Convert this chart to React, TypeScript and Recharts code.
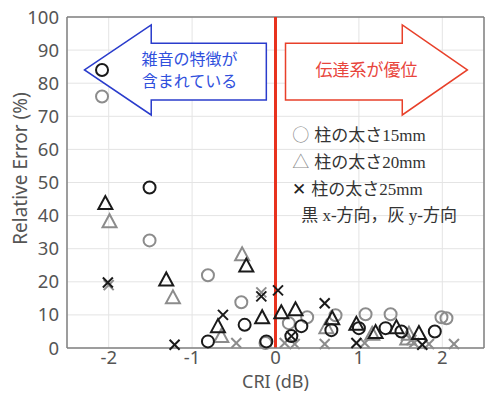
import React from "react"
import {
  ScatterChart,
  Scatter,
  XAxis,
  YAxis,
  CartesianGrid,
  ReferenceLine,
  Customized,
  Label,
} from "recharts"

const W = 485
const H = 394
const X_AXIS_H = 30
const MARGIN = { top: 17, right: 1, bottom: 16, left: 0 }
const Y_AXIS_W = 67

const xTicks = [-2, -1, 0, 1, 2]
const yTicks = [0, 10, 20, 30, 40, 50, 60, 70, 80, 90, 100]

// 黒 = x-方向, 灰 = y-方向
const circleX = [
  { x: -2.08, y: 84 }, { x: -1.51, y: 48.5 }, { x: -0.81, y: 2 }, { x: -0.37, y: 7 },
  { x: -0.11, y: 2 }, { x: 0.19, y: 3.6 }, { x: 0.31, y: 6.6 }, { x: 0.67, y: 5.4 },
  { x: 1.0, y: 6 }, { x: 1.32, y: 6 }, { x: 1.51, y: 5 }, { x: 1.91, y: 5 },
]
const circleY = [
  { x: -2.08, y: 76 }, { x: -1.51, y: 32.5 }, { x: -0.81, y: 22 }, { x: -0.41, y: 13.8 },
  { x: -0.12, y: 1.5 }, { x: 0.16, y: 7.5 }, { x: 0.38, y: 9.3 }, { x: 0.72, y: 9.9 },
  { x: 1.08, y: 10.2 }, { x: 1.38, y: 10.2 }, { x: 1.99, y: 9.3 }, { x: 2.05, y: 9 },
]
const triX = [
  { x: -2.04, y: 43.5 }, { x: -1.31, y: 20.4 }, { x: -0.35, y: 24.6 }, { x: -0.69, y: 6.3 },
  { x: -0.16, y: 9 }, { x: 0.07, y: 10.5 }, { x: 0.24, y: 11.4 }, { x: 0.68, y: 8.7 },
  { x: 0.97, y: 7 }, { x: 1.2, y: 4.5 }, { x: 1.45, y: 6 }, { x: 1.72, y: 4.2 },
]
const triY = [
  { x: -1.99, y: 38 }, { x: -1.23, y: 15 }, { x: -0.4, y: 28 }, { x: -0.65, y: 3.3 },
  { x: 0.61, y: 6 }, { x: 1.16, y: 4 }, { x: 1.6, y: 4 }, { x: 1.58, y: 2.6 },
]
const crossX = [
  { x: -2.01, y: 19.8 }, { x: -1.21, y: 1 }, { x: -0.63, y: 10 }, { x: -0.17, y: 15.6 },
  { x: 0.03, y: 17.4 }, { x: 0.19, y: 3.6 }, { x: 0.59, y: 13.5 }, { x: 0.97, y: 1.5 },
  { x: 1.76, y: 1 },
]
const crossY = [
  { x: -2.0, y: 19 }, { x: -0.47, y: 1.5 }, { x: -0.17, y: 16.8 }, { x: 0.11, y: 1.5 },
  { x: 0.23, y: 1.2 }, { x: 0.59, y: 1.2 }, { x: 1.07, y: 1.5 }, { x: 1.63, y: 2.4 },
  { x: 1.66, y: 1.5 }, { x: 1.84, y: 1.2 }, { x: 2.14, y: 1.2 },
]

const legendLines = [
  { sym: "○", symColor: "#8a8a8a", text: "柱の太さ15mm", indent: 0 },
  { sym: "△", symColor: "#8a8a8a", text: "柱の太さ20mm", indent: 0 },
  { sym: "✕", symColor: "#222", text: "柱の太さ25mm", indent: 0 },
  { sym: "", symColor: "#222", text: "黒 x-方向，灰 y-方向", indent: 9 },
]

const BLACK = "#1a1a1a"
const GRAY = "#8c8c8c"

// data -> pixel, for the annotations only
const plotW = W - Y_AXIS_W - MARGIN.right
const plotH = H - MARGIN.top - MARGIN.bottom - X_AXIS_H
const sx = (x: number) => Y_AXIS_W + ((x + 2.5) / 5) * plotW
const sy = (y: number) => MARGIN.top + ((100 - y) / 100) * plotH

const circleShape = (color: string) => (p: any) => (
  <circle cx={p.cx} cy={p.cy} r={6} fill="none" stroke={color} strokeWidth={2} />
)
const triShape = (color: string) => (p: any) => (
  <polygon
    points={`${p.cx},${p.cy - 8} ${p.cx - 7},${p.cy + 5} ${p.cx + 7},${p.cy + 5}`}
    fill="none"
    stroke={color}
    strokeWidth={2}
  />
)
const crossShape = (color: string) => (p: any) => (
  <g stroke={color} strokeWidth={2}>
    <line x1={p.cx - 5} y1={p.cy - 5} x2={p.cx + 5} y2={p.cy + 5} />
    <line x1={p.cx - 5} y1={p.cy + 5} x2={p.cx + 5} y2={p.cy - 5} />
  </g>
)

function arrowPoints(tipX: number, baseX: number, endX: number) {
  const pts = [
    [tipX, 84],
    [baseX, 97.6],
    [baseX, 92.1],
    [endX, 92.1],
    [endX, 74.9],
    [baseX, 74.9],
    [baseX, 70.4],
  ]
  return pts.map(([x, y]) => `${sx(x)},${sy(y)}`).join(" ")
}

function Annotations() {
  const jp = "'Noto Sans CJK JP', sans-serif"
  const serif = "'Liberation Serif', 'Noto Sans CJK JP', serif"
  return (
    <g>
      <polygon points={arrowPoints(-2.29, -1.49, -0.11)} fill="#fff" stroke="#2a3ccc" strokeWidth={1.5} />
      <polygon points={arrowPoints(2.3, 1.52, 0.12)} fill="#fff" stroke="#e8402a" strokeWidth={1.5} />
      <text x={sx(-1.03)} y={sy(84) - 5} textAnchor="middle" fontSize={16} fontFamily={jp} fill="#3050dd">
        雑音の特徴が
      </text>
      <text x={sx(-1.03)} y={sy(84) + 17} textAnchor="middle" fontSize={16} fontFamily={jp} fill="#3050dd">
        含まれている
      </text>
      <text x={sx(1.09)} y={sy(84) + 6} textAnchor="middle" fontSize={17} fontFamily={jp} fill="#e8453c">
        伝達系が優位
      </text>
      {legendLines.map((l, i) => (
        <text key={i} x={sx(0.2) + l.indent} y={sy(62.5) + i * 26.7} fontSize={17} fontFamily={serif} fill="#333">
          {l.sym && <tspan fill={l.symColor} fontFamily={jp}>{l.sym}</tspan>}
          <tspan dx={l.sym ? 5 : 0}>{l.text}</tspan>
        </text>
      ))}
    </g>
  )
}

export default function App() {
  const tickStyle = { fill: "#555", fontSize: 18.5, fontFamily: "'Noto Sans', sans-serif" }
  return (
    <div style={{ position: "absolute", left: 0, top: 0, background: "#fff" }}>
      <ScatterChart width={W} height={H} margin={MARGIN}>
        <CartesianGrid stroke="#e4e4e4" strokeWidth={1} />
        <XAxis
          type="number"
          dataKey="x"
          domain={[-2.5, 2.5]}
          ticks={xTicks}
          tick={tickStyle}
          tickLine={false}
          tickSize={1}
          axisLine={{ stroke: "#808080", strokeWidth: 1.5 }}
          height={X_AXIS_H}
        >
          <Label value="CRI (dB)" position="insideBottom" offset={-10} fill="#555" fontSize={18} fontFamily="'Noto Sans', sans-serif" />
        </XAxis>
        <YAxis
          type="number"
          dataKey="y"
          domain={[0, 100]}
          ticks={yTicks}
          tick={tickStyle}
          tickLine={false}
          axisLine={{ stroke: "#808080", strokeWidth: 1.5 }}
          width={Y_AXIS_W}
        >
          <Label
            value="Relative Error (%)"
            angle={-90}
            position="center"
            dx={-13}
            dy={-14}
            fill="#555"
            fontSize={19}
            fontFamily="'Noto Sans', sans-serif"
          />
        </YAxis>
        <ReferenceLine y={100} stroke="#808080" strokeWidth={1.5} />
        <ReferenceLine x={2.5} stroke="#808080" strokeWidth={1.5} />
        <Customized component={Annotations} />
        <Scatter data={circleY} shape={circleShape(GRAY)} isAnimationActive={false} />
        <Scatter data={triY} shape={triShape(GRAY)} isAnimationActive={false} />
        <Scatter data={crossY} shape={crossShape(GRAY)} isAnimationActive={false} />
        <Scatter data={circleX} shape={circleShape(BLACK)} isAnimationActive={false} />
        <Scatter data={triX} shape={triShape(BLACK)} isAnimationActive={false} />
        <Scatter data={crossX} shape={crossShape(BLACK)} isAnimationActive={false} />
        <ReferenceLine x={0} stroke="#e8321e" strokeWidth={3} />
      </ScatterChart>
    </div>
  )
}
